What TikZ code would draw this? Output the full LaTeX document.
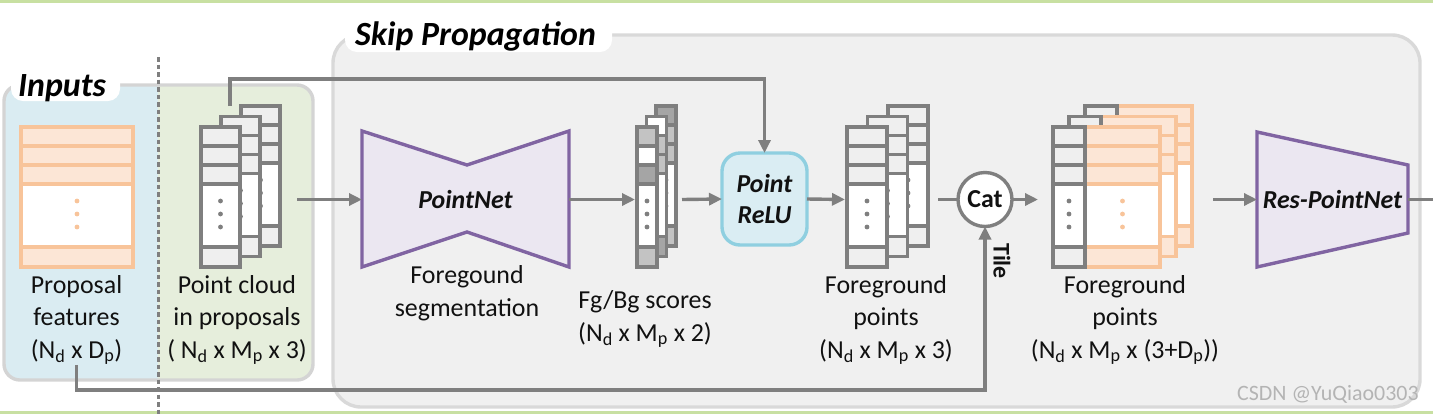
\documentclass[tikz,border=0pt]{standalone}
\usepackage{fontspec}
\setmainfont{Carlito}
\usetikzlibrary{arrows.meta,calc}
\definecolor{lgreen}{HTML}{C8E0A2}
\definecolor{inblue}{HTML}{DAECF2}
\definecolor{ingreen}{HTML}{E6EEDC}
\definecolor{boxb}{HTML}{D4D4D4}
\definecolor{skipb}{HTML}{D9D9D9}
\definecolor{skipfill}{HTML}{F0F0F0}
\definecolor{linegray}{HTML}{7F7F7F}
\definecolor{cellfill}{HTML}{EFEFEF}
\definecolor{orangeb}{HTML}{F8C49A}
\definecolor{orangef}{HTML}{FCE6D6}
\definecolor{purpleb}{HTML}{8064A2}
\definecolor{purplef}{HTML}{EBE7F1}
\definecolor{reluf}{HTML}{DAEDF3}
\definecolor{relub}{HTML}{8FCFE0}
\definecolor{sgl}{HTML}{C3C3C3}
\definecolor{sgd}{HTML}{A5A5A5}
\definecolor{wm}{HTML}{B4B4B4}
\definecolor{txt}{HTML}{111111}
% column of cells: x, y(top), width, stroke, five fills
\newcommand\stackcol[9]{%
  \filldraw[draw=#4,fill=#5,line width=3.2bp] (#1,#2) rectangle (#1+#3,#2+19);
  \filldraw[draw=#4,fill=#6,line width=3.2bp] (#1,#2+19) rectangle (#1+#3,#2+38);
  \filldraw[draw=#4,fill=#7,line width=3.2bp] (#1,#2+38) rectangle (#1+#3,#2+57);
  \filldraw[draw=#4,fill=#8,line width=3.2bp] (#1,#2+57) rectangle (#1+#3,#2+120);
  \filldraw[draw=#4,fill=#9,line width=3.2bp] (#1,#2+120) rectangle (#1+#3,#2+140);
  \fill[#4] (#1+#3/2,#2+74) circle (2.4bp) (#1+#3/2,#2+87) circle (2.4bp) (#1+#3/2,#2+100) circle (2.4bp);
}
\newcommand\graycol[3]{\stackcol{#1}{#2}{#3}{linegray}{cellfill}{cellfill}{cellfill}{white}{cellfill}}
\newcommand\catlayer[2]{%
  \stackcol{#1+32}{#2}{75}{orangeb}{orangef}{orangef}{orangef}{white}{orangef}%
  \stackcol{#1}{#2}{32}{linegray}{cellfill}{cellfill}{cellfill}{white}{cellfill}}
\tikzset{
  conn/.style={draw=linegray, line width=3.4bp},
  arr/.style={conn, -{Triangle[length=13bp,width=12bp]}},
  hold/.style={inner sep=0pt, outer sep=0pt, minimum height=0pt},
  lbl/.style={align=center, font=\fontsize{26}{32.5}\selectfont, inner sep=0pt, text=txt},
  bi/.style={font=\fontsize{26}{32}\selectfont\bfseries\itshape, text=txt},
  ttl/.style={font=\fontsize{34}{34}\selectfont\bfseries\itshape, inner sep=0pt, text=black},
}
\begin{document}
\begin{tikzpicture}[x=1bp,y=-1bp]
\useasboundingbox (0,0) rectangle (1433,414);
\fill[white] (0,0) rectangle (1433,414);
\fill[lgreen] (0,0) rectangle (1433,2.5);
\fill[lgreen] (0,411) rectangle (1433,414);
% Skip propagation box
\draw[draw=skipb, fill=skipfill, line width=3.4bp, rounded corners=28bp] (333,35) rectangle (1420,407);
\fill[white, rounded corners=12bp] (345,12) rectangle (612,52);
\node[ttl, anchor=base west] (sp) at (355,45) {Skip Propagation};
% Inputs box
\begin{scope}
  \clip[rounded corners=16bp] (4,85) rectangle (313,380);
  \fill[inblue] (0,0) rectangle (158,414);
  \fill[ingreen] (158,0) rectangle (320,414);
\end{scope}
\draw[draw=boxb, line width=3.4bp, rounded corners=16bp] (4,85) rectangle (313,380);
\fill[white, rounded corners=12bp] (11,62) rectangle (120,101);
\node[ttl, anchor=base west] (inp) at (18,96) {Inputs};
\draw[linegray, line width=3bp, dash pattern=on 4.5bp off 3bp] (158,57) -- (158,414);
% Proposal features
\stackcol{21}{127}{112}{orangeb}{orangef}{orangef}{orangef}{white}{orangef}
\node[hold, minimum width=112bp] (pf) at (77,199.5) {};
\node[lbl, anchor=base] (pfl) at (76.5,358) {Proposal\\features\\(N\textsubscript{d} x D\textsubscript{p})};
% Point cloud
\graycol{241}{106}{39}
\graycol{221}{116.5}{39}
\graycol{201}{127}{39}
\node[hold, minimum width=79bp] (pc) at (240.5,199.5) {};
\coordinate (pctop) at (230,106);
\node[lbl, anchor=base] (pcl) at (237,358) {Point cloud\\in proposals\\( N\textsubscript{d} x M\textsubscript{p} x 3)};
% PointNet
\draw[draw=purpleb, fill=purplef, line width=3.4bp] (362,131) -- (467,165) -- (569,131) -- (569,267) -- (467,232) -- (362,267) -- cycle;
\node[bi, inner sep=0pt, outer sep=0pt, minimum width=207bp, minimum height=136bp] (pn) at (465.5,199.5) {PointNet};
\node[lbl, anchor=base] (pnl) at (467,316) {Foregound\\segmentation};
% Fg/Bg scores
\stackcol{656}{106}{20}{linegray}{sgd}{sgl}{sgl}{white}{sgl}
\stackcol{646.5}{116.5}{20}{linegray}{white}{sgl}{sgl}{white}{sgd}
\stackcol{637}{127}{20}{linegray}{sgl}{white}{sgd}{white}{sgl}
\node[hold, minimum width=39bp] (fb) at (656.5,199.5) {};
\node[lbl, anchor=base] (fbl) at (645,341) {Fg/Bg scores\\(N\textsubscript{d} x M\textsubscript{p} x 2)};
% Point ReLU
\node[bi, align=center, draw=relub, fill=reluf, line width=3.4bp, rounded corners=18bp, minimum width=85bp, minimum height=92bp, inner sep=0pt, outer sep=0pt] (relu) at (764.5,199) {Point\\ReLU};
% Foreground points
\graycol{888}{106}{40}
\graycol{867.5}{116.5}{40}
\graycol{847}{127}{40}
\node[hold, minimum width=81bp] (fp) at (887.5,199.5) {};
\node[lbl, anchor=base] (fpl) at (886,358) {Foreground\\points\\(N\textsubscript{d} x M\textsubscript{p} x 3)};
% Cat
\node[circle, draw=linegray, fill=white, line width=3.4bp, minimum size=54bp, inner sep=0pt, outer sep=0pt, font=\fontsize{26}{26}\selectfont\bfseries, text=txt] (cat) at (985,199.5) {Cat};
\node[rotate=-90, font=\fontsize{24}{24}\selectfont\bfseries, inner sep=0pt, text=txt] (tile) at (1002,261) {Tile};
% Concatenated points
\catlayer{1085}{106}
\catlayer{1069}{116.5}
\catlayer{1053}{127}
\node[hold, minimum width=139bp] (cp) at (1122.5,199.5) {};
\node[lbl, anchor=base] (cpl) at (1125,358) {Foreground\\points\\(N\textsubscript{d} x M\textsubscript{p} x (3+D\textsubscript{p}))};
% Res-PointNet
\draw[draw=purpleb, fill=purplef, line width=3.4bp] (1257,132) -- (1408,165) -- (1408,233) -- (1257,267) -- cycle;
\node[bi, inner sep=0pt, outer sep=0pt, minimum width=151bp, minimum height=135bp] (rpn) at (1332.5,199.5) {Res-PointNet};
\coordinate (out) at (1433,199.5);
% watermark
\node[anchor=base west, font=\fontsize{22}{22}\selectfont, text=wm, inner sep=0pt] (wmk) at (1237,400) {CSDN @YuQiao0303};
% connectors
\draw[arr] ([xshift=17bp]pc.east) -- (pn.west);
\draw[arr] (pn.east) -- ([xshift=-2bp]fb.west);
\draw[arr] ([xshift=6bp]fb.east) -- (relu.west);
\draw[arr] (relu.east) -- ([xshift=-2bp]fp.west);
\draw[conn] ([xshift=10bp]fp.east) -- (cat.west);
\draw[arr] (cat.east) -- ([xshift=-15bp]cp.west);
\draw[arr] ([xshift=21bp]cp.east) -- (rpn.west);
\draw[conn] (rpn.east) -- (out);
\draw[arr] (pctop) -- ++(0,-27) -| (relu.north);
\draw[arr] (pfl.south) -- (pfl.south |- 0,390) -| (cat.south);
\end{tikzpicture}
\end{document}
